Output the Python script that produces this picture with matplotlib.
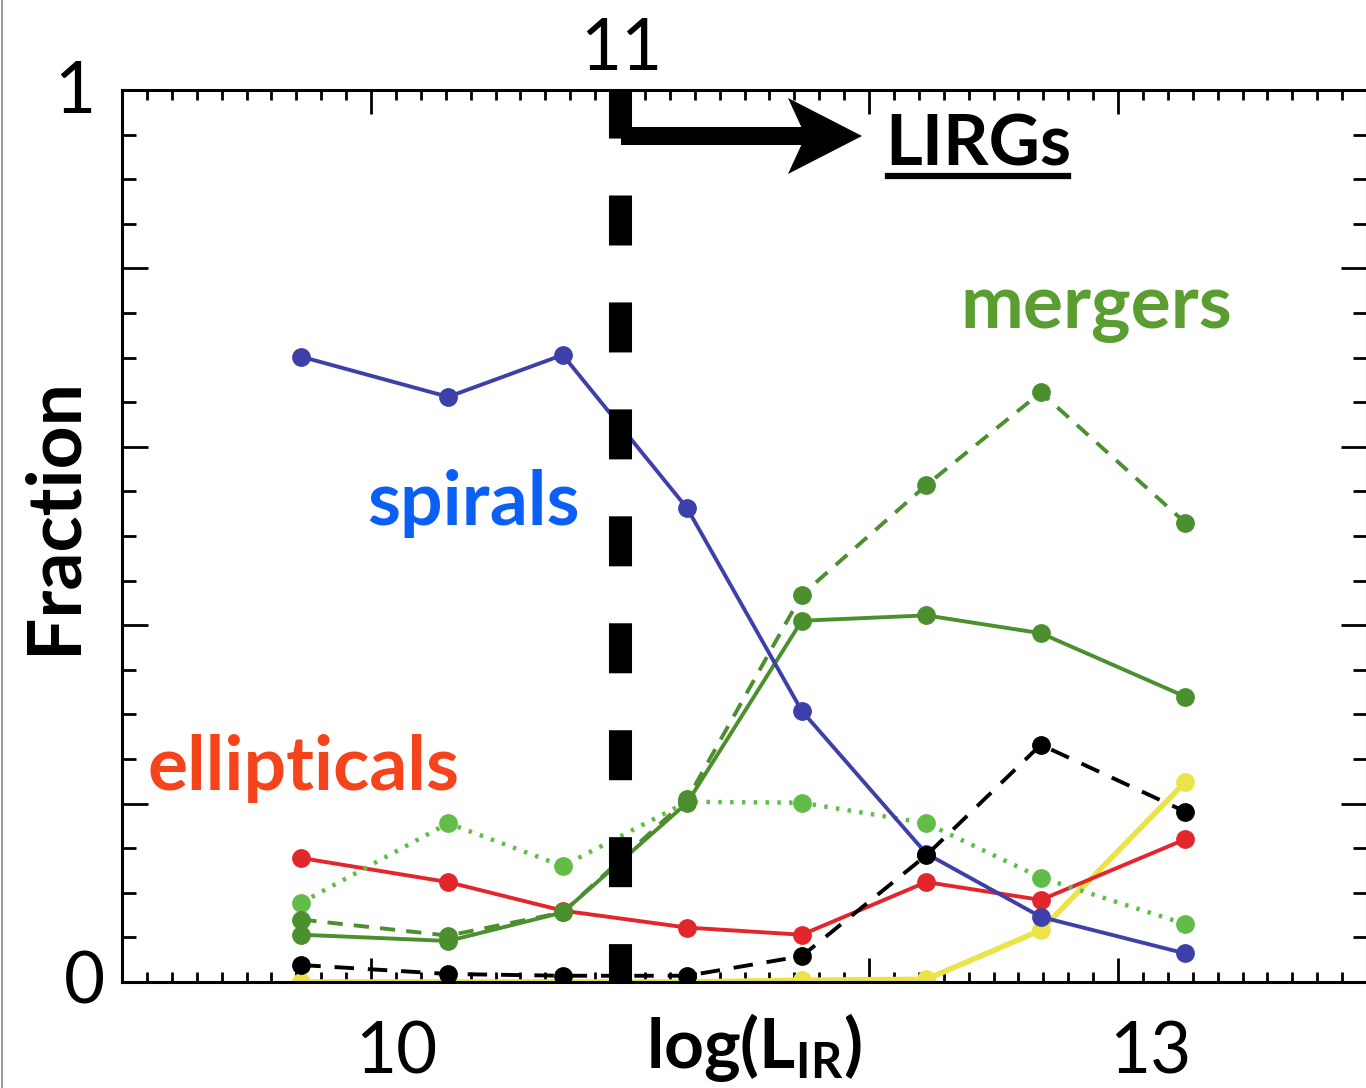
import matplotlib
matplotlib.use('Agg')
import matplotlib.pyplot as plt
from matplotlib.transforms import Affine2D
from matplotlib.patches import FancyArrow
from matplotlib.lines import Line2D
from matplotlib.ticker import MultipleLocator

plt.rcParams['font.family'] = ['Lato', 'DejaVu Sans']
plt.rcParams['lines.scale_dashes'] = False
plt.rcParams['mathtext.fontset'] = 'custom'
plt.rcParams['mathtext.rm'] = 'Lato'
plt.rcParams['mathtext.bf'] = 'Lato:bold'

# ---------------- data ----------------
log_lir = [9.72, 10.31, 10.77, 11.27, 11.73, 12.23, 12.69, 13.27]
spirals = [0.701, 0.656, 0.703, 0.531, 0.304, 0.144, 0.073, 0.032]
ellipticals = [0.139, 0.112, 0.080, 0.061, 0.053, 0.112, 0.092, 0.160]
mergers_solid = [0.053, 0.046, 0.078, 0.201, 0.405, 0.411, 0.391, 0.320]
mergers_dashed = [0.070, 0.052, 0.078, 0.205, 0.434, 0.557, 0.661, 0.515]
mergers_dotted = [0.089, 0.178, 0.130, 0.202, 0.201, 0.178, 0.117, 0.065]
black_dashed = [0.019, 0.009, 0.007, 0.007, 0.029, 0.142, 0.266, 0.191]
yellow_series = [0.0, 0.0, 0.0, 0.0, 0.002, 0.003, 0.058, 0.224]

lirg_threshold = 11
x_tick_labels = ['10', '13']
x_tick_label_pos = [10.1, 13.13]
y_tick_labels = ['0', '1']
x_label = r'$\mathbf{log(L_{IR})}$'
y_label = 'Fraction'

# ---------------- figure ----------------
W, H, DPI = 1366, 1088, 100
fig = plt.figure(figsize=(W / DPI, H / DPI), dpi=DPI)
px = Affine2D().scale(1 / DPI) + fig.dpi_scale_trans


def P(x, y):
    return (x, H - y)


ax = fig.add_axes([122 / W, (H - 982) / H, (1367 - 122) / W, (982 - 90) / H])
ax.set_xlim(9, 14)
ax.set_ylim(0, 1)

ms = 12.5
lw = 2.8
ax.plot(log_lir, yellow_series, color='#ebe34a', lw=4, marker='o', ms=ms, zorder=2)
ax.plot(log_lir, ellipticals, color='#e2262c', lw=lw, marker='o', ms=ms, zorder=3)
ax.plot(log_lir, mergers_dotted, color='#62bd48', lw=lw + 0.4, ls=(0, (2.5, 6)),
        marker='o', ms=ms, zorder=4)
ax.plot(log_lir, mergers_dashed, color='#4b8f2e', lw=lw, ls=(0, (11, 8)),
        marker='o', ms=ms, zorder=5)
ax.plot(log_lir, mergers_solid, color='#4b8f2e', lw=lw, marker='o', ms=ms, zorder=6)
ax.plot(log_lir, spirals, color='#3c40a8', lw=lw, marker='o', ms=ms, zorder=7)
ax.plot(log_lir, black_dashed, color='black', lw=lw, ls=(0, (14, 10)),
        marker='o', ms=ms, zorder=8)

# thick dashed divider at log(L_IR)=11
ax.plot([lirg_threshold, lirg_threshold], [1, 0], color='black', lw=16.6,
        ls=(1.4, (36, 41)), solid_capstyle='butt', dash_capstyle='butt',
        zorder=10, clip_on=True)

# axes styling
for s in ax.spines.values():
    s.set_linewidth(2.2)
ax.xaxis.set_major_locator(MultipleLocator(1))
ax.xaxis.set_minor_locator(MultipleLocator(0.1))
ax.yaxis.set_major_locator(MultipleLocator(0.2))
ax.yaxis.set_minor_locator(MultipleLocator(0.05))
ax.tick_params(which='both', direction='in', top=True, right=True,
               labelbottom=False, labelleft=False, width=2)
ax.xaxis.set_tick_params(which='major', length=17)
ax.xaxis.set_tick_params(which='minor', length=7.5)
ax.yaxis.set_tick_params(which='major', length=19)
ax.yaxis.set_tick_params(which='minor', length=10)

# ---------------- text ----------------
num_size = 51
lab_tr = ax.get_xaxis_transform() + Affine2D().translate(0, -(1073 - 982))
for lab, xv in zip(x_tick_labels, x_tick_label_pos):
    ax.text(xv, 0, lab, transform=lab_tr, ha='center', va='baseline', fontsize=num_size)

fig.text(*P(75, 113), y_tick_labels[1], transform=px, ha='center', va='baseline', fontsize=num_size)
fig.text(*P(84, 1003), y_tick_labels[0], transform=px, ha='center', va='baseline', fontsize=num_size)
fig.text(*P(621, 70), str(lirg_threshold), transform=px, ha='center', va='baseline', fontsize=num_size)

fig.text(*P(754, 1068), x_label, transform=px, ha='center', va='baseline', fontsize=50)
fig.text(*P(54, 515), y_label, transform=px, ha='center', va='center', rotation=90,
         fontsize=54, fontweight='bold')

fig.text(*P(978, 166), 'LIRGs', transform=px, ha='center', va='baseline',
         fontsize=51, fontweight='bold')
fig.add_artist(Line2D([888, 1068], [H - 176, H - 176], transform=px, color='black', lw=4.5))

fig.text(*P(1096, 328), 'mergers', transform=px, ha='center', va='baseline',
         fontsize=54, fontweight='bold', color='#5a9e32')
fig.text(*P(473, 525), 'spirals', transform=px, ha='center', va='baseline',
         fontsize=54, fontweight='bold', color='#0a5ff5')
fig.text(*P(303, 790), 'ellipticals', transform=px, ha='center', va='baseline',
         fontsize=54, fontweight='bold', color='#f5431b')

# arrow towards LIRGs
arr = FancyArrow(621, H - 136, 862 - 621, 0, width=18, head_width=76, head_length=74,
                 overhang=0.18, length_includes_head=True, transform=px,
                 color='black', lw=0)
fig.add_artist(arr)

# thin frame line on the left edge
fig.add_artist(Line2D([1.5, 1.5], [0, H], transform=px, color='#8a8a8a', lw=1.2))

fig.savefig('out.png', dpi=DPI)
